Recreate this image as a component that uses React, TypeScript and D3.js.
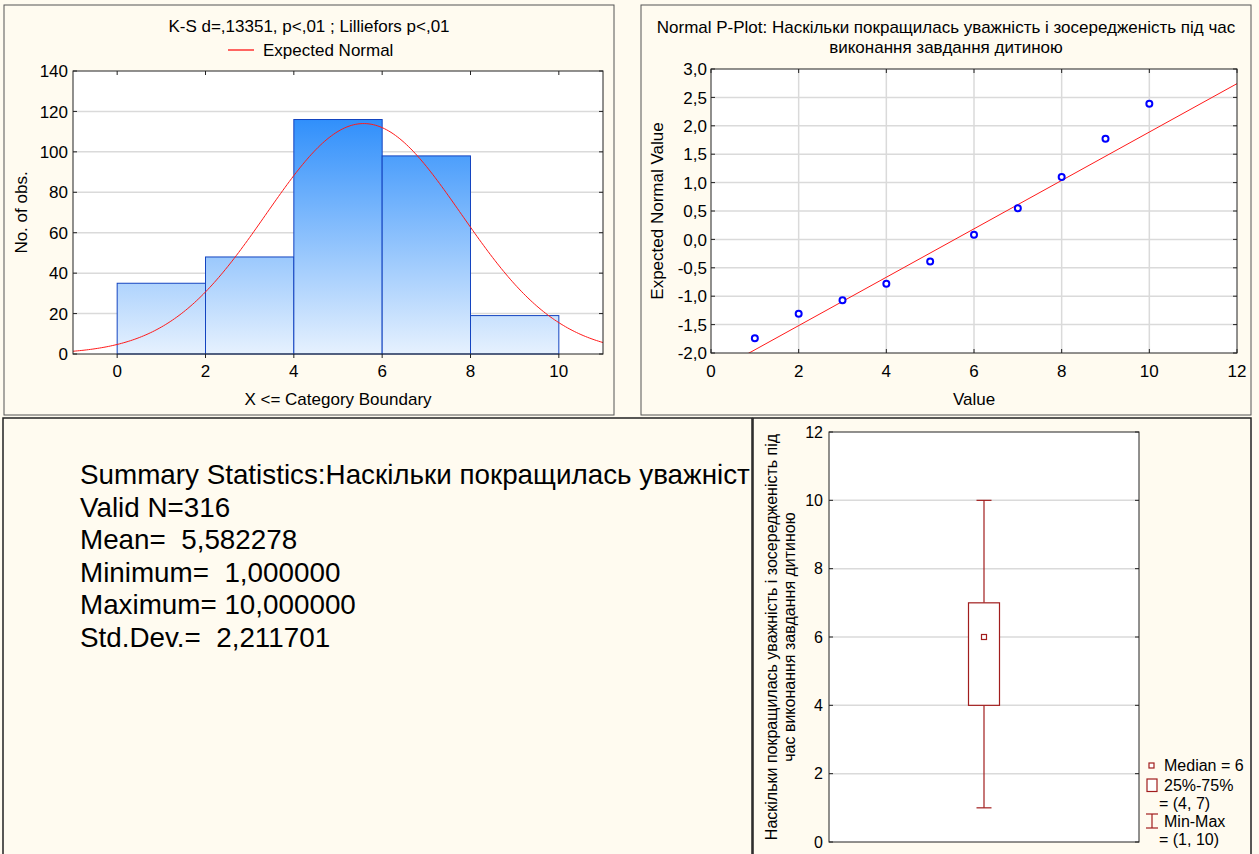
import React from 'react';
import * as d3 from 'd3';

const FONT = "'Liberation Sans', Arial, Helvetica, sans-serif";
const BG = '#fffbf0';
const GRID = '#dadada';
const FRAME = '#222';
const FS = 17;

// ---------- Histogram data ----------
const HIST_BIN_EDGES = [0, 2, 4, 6, 8, 10];
const HIST_COUNTS = [35, 48, 116, 98, 19];
const HIST_X_TICKS = [0, 2, 4, 6, 8, 10];
const HIST_Y_TICKS = [0, 20, 40, 60, 80, 100, 120, 140];
const HIST_TITLE = 'K-S d=,13351, p<,01 ; Lilliefors p<,01';
const HIST_LEGEND = 'Expected Normal';

// ---------- Summary statistics ----------
const N_VALID = 316;
const MEAN = 5.582278;
const STD_DEV = 2.211701;
const SUMMARY_LINES = [
  'Summary Statistics:Наскільки покращилась уважніст',
  'Valid N=316',
  'Mean=  5,582278',
  'Minimum=  1,000000',
  'Maximum= 10,000000',
  'Std.Dev.=  2,211701',
];

// ---------- Normal P-plot data ----------
const PP_VALUES = [1, 2, 3, 4, 5, 6, 7, 8, 9, 10];
const PP_EXPECTED = [-1.74, -1.31, -1.07, -0.78, -0.39, 0.08, 0.55, 1.1, 1.77, 2.39];
const PP_LINE_INTERCEPT = -2.37;
const PP_LINE_SLOPE = 0.426;
const PP_X_TICKS = [0, 2, 4, 6, 8, 10, 12];
const PP_Y_TICKS = [-2, -1.5, -1, -0.5, 0, 0.5, 1, 1.5, 2, 2.5, 3];
const PP_TITLE_1 = 'Normal P-Plot: Наскільки покращилась уважність і зосередженість під час';
const PP_TITLE_2 = 'виконання завдання дитиною';

// ---------- Box plot data ----------
const BOX_CATEGORY = ['var'];
const BOX_MIN = [1];
const BOX_Q1 = [4];
const BOX_MEDIAN = [6];
const BOX_Q3 = [7];
const BOX_MAX = [10];
const BOX_Y_TICKS = [0, 2, 4, 6, 8, 10, 12];
const BOX_YLABEL_1 = 'Наскільки покращилась уважність і зосередженість під';
const BOX_YLABEL_2 = 'час виконання завдання дитиною';
const BOX_LEGEND = ['Median = 6', '25%-75%', '= (4, 7)', 'Min-Max', '= (1, 10)'];

const fmtComma = (v: number) => d3.format('.1f')(v).replace('.', ',').replace('−', '-');

function Histogram() {
  const x = d3.scaleLinear().domain([-1, 11]).range([73, 603]);
  const y = d3.scaleLinear().domain([0, 140]).range([354, 71]);
  const [x0, x1] = x.range();
  const [yb, yt] = y.range();
  const bw = HIST_BIN_EDGES[1] - HIST_BIN_EDGES[0];
  const pdf = (v: number) =>
    (N_VALID * bw) / (STD_DEV * Math.sqrt(2 * Math.PI)) * Math.exp(-0.5 * ((v - MEAN) / STD_DEV) ** 2);
  const xs = d3.range(-1, 11.0001, 0.05);
  const line = d3.line<number>().x((v) => x(v)).y((v) => y(pdf(v)));
  return (
    <g>
      <defs>
        <linearGradient id="histGrad" gradientUnits="userSpaceOnUse" x1={0} x2={0} y1={y(120)} y2={y(0)}>
          <stop offset="0" stopColor="#2a8cfb" />
          <stop offset="1" stopColor="#e6f1fe" />
        </linearGradient>
        <clipPath id="histClip">
          <rect x={x0} y={yt} width={x1 - x0} height={yb - yt} />
        </clipPath>
      </defs>
      <rect x={4} y={5} width={610} height={410} fill={BG} stroke="#555" />
      <text x={309} y={32} textAnchor="middle" fontSize={FS}>{HIST_TITLE}</text>
      <line x1={228} x2={254} y1={50} y2={50} stroke="#ff0000" strokeWidth={1.2} />
      <text x={263} y={56} fontSize={FS}>{HIST_LEGEND}</text>
      <rect x={x0} y={yt} width={x1 - x0} height={yb - yt} fill="#fff" />
      {HIST_Y_TICKS.filter((t) => t > 0 && t < 140).map((t) => (
        <line key={t} x1={x0} x2={x1} y1={y(t)} y2={y(t)} stroke={GRID} strokeWidth={1.5} />
      ))}
      {HIST_COUNTS.map((c, i) => (
        <rect
          key={i}
          x={x(HIST_BIN_EDGES[i])}
          y={y(c)}
          width={x(HIST_BIN_EDGES[i + 1]) - x(HIST_BIN_EDGES[i])}
          height={y(0) - y(c)}
          fill="url(#histGrad)"
          stroke="#1444c0"
          strokeWidth={1}
        />
      ))}
      <path d={line(xs) || ''} fill="none" stroke="#ff1a1a" strokeWidth={1} clipPath="url(#histClip)" />
      <rect x={x0} y={yt} width={x1 - x0} height={yb - yt} fill="none" stroke={FRAME} strokeWidth={1} />
      {HIST_Y_TICKS.map((t) => (
        <g key={t}>
          <line x1={x0} x2={x0 + 4} y1={y(t)} y2={y(t)} stroke={FRAME} />
          <line x1={x1 - 4} x2={x1} y1={y(t)} y2={y(t)} stroke={FRAME} />
          <text x={x0 - 5} y={y(t)} dy="0.36em" textAnchor="end" fontSize={FS}>{t}</text>
        </g>
      ))}
      {HIST_X_TICKS.map((t) => (
        <g key={t}>
          <line x1={x(t)} x2={x(t)} y1={yb} y2={yb + 4} stroke={FRAME} />
          <line x1={x(t)} x2={x(t)} y1={yt} y2={yt + 4} stroke={FRAME} />
          <text x={x(t)} y={377} textAnchor="middle" fontSize={FS}>{t}</text>
        </g>
      ))}
      <text x={(x0 + x1) / 2} y={405} textAnchor="middle" fontSize={FS}>X &lt;= Category Boundary</text>
      <text transform={`translate(27,${(yt + yb) / 2}) rotate(-90)`} textAnchor="middle" fontSize={FS}>No. of obs.</text>
    </g>
  );
}

function PPlot() {
  const x = d3.scaleLinear().domain([0, 12]).range([711, 1237]);
  const y = d3.scaleLinear().domain([-2, 3]).range([353, 69]);
  const [x0, x1] = x.range();
  const [yb, yt] = y.range();
  const lx = [0, 12];
  const line = d3.line<number>().x((v) => x(v)).y((v) => y(PP_LINE_INTERCEPT + PP_LINE_SLOPE * v));
  return (
    <g>
      <defs>
        <clipPath id="ppClip">
          <rect x={x0} y={yt} width={x1 - x0} height={yb - yt} />
        </clipPath>
      </defs>
      <rect x={641} y={5} width={610} height={410} fill={BG} stroke="#555" />
      <text x={946} y={33} textAnchor="middle" fontSize={FS}>{PP_TITLE_1}</text>
      <text x={946} y={53} textAnchor="middle" fontSize={FS}>{PP_TITLE_2}</text>
      <rect x={x0} y={yt} width={x1 - x0} height={yb - yt} fill="#fff" />
      {PP_Y_TICKS.filter((t) => t > -2 && t < 3).map((t) => (
        <line key={t} x1={x0} x2={x1} y1={y(t)} y2={y(t)} stroke={GRID} strokeWidth={1.5} />
      ))}
      {PP_X_TICKS.filter((t) => t > 0 && t < 12).map((t) => (
        <line key={t} x1={x(t)} x2={x(t)} y1={yt} y2={yb} stroke={GRID} strokeWidth={1.5} />
      ))}
      <path d={line(lx) || ''} fill="none" stroke="#ff1a1a" strokeWidth={1} clipPath="url(#ppClip)" />
      {PP_VALUES.map((v, i) => (
        <circle key={v} cx={x(v)} cy={y(PP_EXPECTED[i])} r={3} fill="#fff" stroke="#0000ff" strokeWidth={2} />
      ))}
      <rect x={x0} y={yt} width={x1 - x0} height={yb - yt} fill="none" stroke={FRAME} strokeWidth={1} />
      {PP_Y_TICKS.map((t) => (
        <g key={t}>
          <line x1={x0} x2={x0 + 4} y1={y(t)} y2={y(t)} stroke={FRAME} />
          <line x1={x1 - 4} x2={x1} y1={y(t)} y2={y(t)} stroke={FRAME} />
          <text x={x0 - 4} y={y(t)} dy="0.36em" textAnchor="end" fontSize={FS}>{fmtComma(t)}</text>
        </g>
      ))}
      {PP_X_TICKS.map((t) => (
        <g key={t}>
          <line x1={x(t)} x2={x(t)} y1={yb - 4} y2={yb} stroke={FRAME} />
          <line x1={x(t)} x2={x(t)} y1={yt} y2={yt + 4} stroke={FRAME} />
          <text x={x(t)} y={377} textAnchor="middle" fontSize={FS}>{t}</text>
        </g>
      ))}
      <text x={(x0 + x1) / 2} y={405} textAnchor="middle" fontSize={FS}>Value</text>
      <text transform={`translate(663,${(yt + yb) / 2}) rotate(-90)`} textAnchor="middle" fontSize={FS}>Expected Normal Value</text>
    </g>
  );
}

function Summary() {
  return (
    <g>
      <defs>
        <clipPath id="sumClip">
          <rect x={3} y={418} width={749} height={440} />
        </clipPath>
      </defs>
      <rect x={3} y={418} width={749} height={445} fill={BG} stroke={FRAME} strokeWidth={1.5} />
      <g clipPath="url(#sumClip)">
        {SUMMARY_LINES.map((s, i) => (
          <text key={i} x={80} y={484 + i * 32.6} fontSize={27.8} style={{ whiteSpace: 'pre' }}>{s}</text>
        ))}
      </g>
    </g>
  );
}

function BoxPlot() {
  const xb = d3.scaleBand().domain(BOX_CATEGORY).range([829, 1139]);
  const y = d3.scaleLinear().domain([0, 12]).range([842, 432]);
  const [x0, x1] = xb.range();
  const [yb, yt] = y.range();
  const red = '#a11d1d';
  const boxW = 31;
  const capW = 15;
  return (
    <g>
      <rect x={753} y={418} width={498} height={445} fill={BG} stroke={FRAME} strokeWidth={1.5} />
      <rect x={x0} y={yt} width={x1 - x0} height={yb - yt} fill="#fff" />
      {BOX_Y_TICKS.filter((t) => t > 0 && t < 12).map((t) => (
        <line key={t} x1={x0} x2={x1} y1={y(t)} y2={y(t)} stroke={GRID} strokeWidth={1.5} />
      ))}
      {BOX_CATEGORY.map((c, i) => {
        const cx = (xb(c) as number) + xb.bandwidth() / 2;
        return (
          <g key={c}>
            <line x1={cx} x2={cx} y1={y(BOX_MAX[i])} y2={y(BOX_Q3[i])} stroke={red} strokeWidth={1.2} />
            <line x1={cx} x2={cx} y1={y(BOX_Q1[i])} y2={y(BOX_MIN[i])} stroke={red} strokeWidth={1.2} />
            <line x1={cx - capW / 2} x2={cx + capW / 2} y1={y(BOX_MAX[i])} y2={y(BOX_MAX[i])} stroke={red} strokeWidth={1.2} />
            <line x1={cx - capW / 2} x2={cx + capW / 2} y1={y(BOX_MIN[i])} y2={y(BOX_MIN[i])} stroke={red} strokeWidth={1.2} />
            <rect x={cx - boxW / 2} y={y(BOX_Q3[i])} width={boxW} height={y(BOX_Q1[i]) - y(BOX_Q3[i])} fill="#fff" stroke={red} strokeWidth={1.2} />
            <rect x={cx - 2.5} y={y(BOX_MEDIAN[i]) - 2.5} width={5} height={5} fill="#fff" stroke={red} strokeWidth={1.2} />
          </g>
        );
      })}
      <rect x={x0} y={yt} width={x1 - x0} height={yb - yt} fill="none" stroke={FRAME} strokeWidth={1} />
      {BOX_Y_TICKS.map((t) => (
        <g key={t}>
          <line x1={x0} x2={x0 + 4} y1={y(t)} y2={y(t)} stroke={FRAME} />
          <line x1={x1 - 4} x2={x1} y1={y(t)} y2={y(t)} stroke={FRAME} />
          <text x={x0 - 6} y={y(t)} dy="0.36em" textAnchor="end" fontSize={16}>{t}</text>
        </g>
      ))}
      <text transform={`translate(777,${(yt + yb) / 2}) rotate(-90)`} textAnchor="middle" fontSize={16}>{BOX_YLABEL_1}</text>
      <text transform={`translate(795,${(yt + yb) / 2}) rotate(-90)`} textAnchor="middle" fontSize={16}>{BOX_YLABEL_2}</text>
      {/* legend */}
      <rect x={1149} y={763} width={5} height={5} fill="#fff" stroke={red} strokeWidth={1.2} />
      <text x={1164} y={771} fontSize={16}>{BOX_LEGEND[0]}</text>
      <rect x={1147} y={779} width={10} height={12.5} fill="#fff" stroke={red} strokeWidth={1.2} />
      <text x={1164} y={791} fontSize={16}>{BOX_LEGEND[1]}</text>
      <text x={1159} y={809} fontSize={16}>{BOX_LEGEND[2]}</text>
      <line x1={1152} x2={1152} y1={814} y2={828} stroke={red} strokeWidth={1.2} />
      <line x1={1146} x2={1158} y1={814} y2={814} stroke={red} strokeWidth={1.2} />
      <line x1={1146} x2={1158} y1={828} y2={828} stroke={red} strokeWidth={1.2} />
      <text x={1164} y={827} fontSize={16}>{BOX_LEGEND[3]}</text>
      <text x={1159} y={845} fontSize={16}>{BOX_LEGEND[4]}</text>
    </g>
  );
}

export default function App() {
  return (
    <svg
      width={1259}
      height={854}
      style={{ position: 'absolute', left: 0, top: 0, background: BG }}
      fontFamily={FONT}
    >
      <rect x={0} y={0} width={1259} height={854} fill={BG} />
      <Histogram />
      <PPlot />
      <Summary />
      <BoxPlot />
    </svg>
  );
}
